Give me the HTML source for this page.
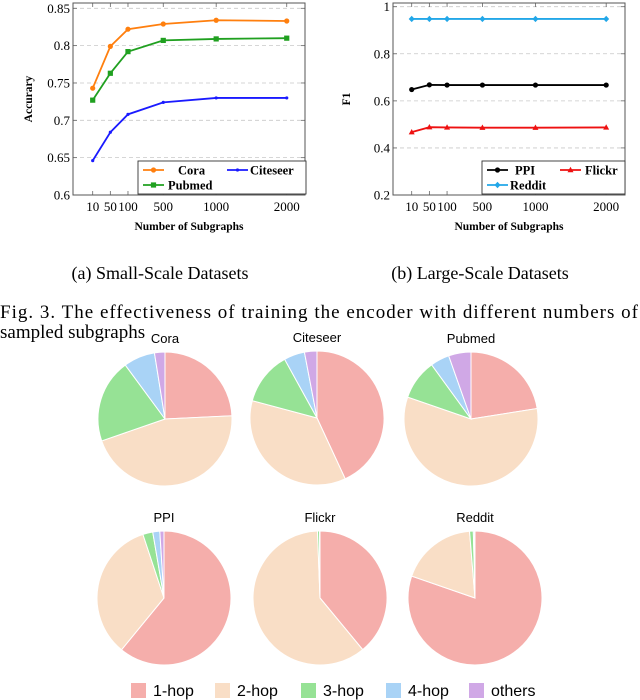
<!DOCTYPE html>
<html><head><meta charset="utf-8"><style>
body{margin:0;background:#fff;width:640px;height:700px;overflow:hidden}
svg{display:block}
.serif{font-family:"Liberation Serif",serif}
.sans{font-family:"Liberation Sans",sans-serif}
</style></head><body>
<svg id="fig" width="640" height="700" viewBox="0 0 640 700">
<g id="chartA"></g>
<g id="chartB"></g>
<text class="serif" x="160" y="279" font-size="18" text-anchor="middle">(a)  Small-Scale Datasets</text>
<text class="serif" x="480" y="279" font-size="18" text-anchor="middle">(b)  Large-Scale Datasets</text>
<text class="serif" x="0" y="318" font-size="19" textLength="638" lengthAdjust="spacing">Fig. 3.  The effectiveness of training the encoder with different numbers of</text>
<text class="serif" x="0" y="338" font-size="19">sampled subgraphs</text>
<g id="pies"></g>
<g id="pieLegend"></g>
</svg>
<script>
const xCats=["10","50","100","500","1000","2000"];
const xSlots=[0,1,2,4,7,11];
const coraVals=[0.743,0.799,0.822,0.829,0.834,0.833];
const pubmedVals=[0.727,0.763,0.792,0.807,0.809,0.810];
const citeseerVals=[0.646,0.684,0.708,0.724,0.730,0.730];
const yTicksA=[0.6,0.65,0.7,0.75,0.8,0.85];
const yTickLabelsA=["0.6","0.65","0.7","0.75","0.8","0.85"];
const ppiVals=[0.648,0.668,0.667,0.667,0.667,0.667];
const flickrVals=[0.467,0.488,0.487,0.486,0.486,0.487];
const redditVals=[0.948,0.948,0.948,0.948,0.948,0.948];
const yTicksB=[0.2,0.4,0.6,0.8,1.0];
const yTickLabelsB=["0.2","0.4","0.6","0.8","1"];
const pieNames=["Cora","Citeseer","Pubmed","PPI","Flickr","Reddit"];
const hop1=[24,43,22.5,61,39,80.3];
const hop2=[45,36,57.8,34,60.4,18.4];
const hop3=[20,12.8,9.7,2.4,0.5,0.9];
const hop4=[7.5,5,4.6,1.7,0.05,0.3];
const others=[2.5,3,5.4,1,0.05,0.1];
const pieLabels=["1-hop","2-hop","3-hop","4-hop","others"];

const NS="http://www.w3.org/2000/svg";
function mk(parent,tag,attrs){const e=document.createElementNS(NS,tag);for(const k in attrs)e.setAttribute(k,attrs[k]);parent.appendChild(e);return e;}

function drawChart(g,box,yMin,yMax,yTicks,yLabels,yTitle,series,legend){
  const xS=i=>box.x0+box.pad+xSlots[i]*box.unit;
  const yS=v=>box.y1-(v-yMin)/(yMax-yMin)*(box.y1-box.y0t);
  yTicks.forEach((t,i)=>{
    const y=yS(t);
    const gl=mk(g,'line',{x1:box.x0,x2:box.x1,y1:y,y2:y,stroke:'#c8c8c8','stroke-width':0.8,'stroke-dasharray':'4,3'});
    
    
    mk(g,'line',{x1:box.x0,x2:box.x0+4,y1:y,y2:y,stroke:'#666','stroke-width':0.8});
    mk(g,'line',{x1:box.x1,x2:box.x1-4,y1:y,y2:y,stroke:'#666','stroke-width':0.8});
    const tl=mk(g,'text',{x:box.x0-3,y:y+4.5,'font-size':13,'text-anchor':'end',class:'serif'});
    tl.textContent=yLabels[i];
    
    
  });
  xCats.forEach((c,i)=>{
    const x=xS(i);
    mk(g,'line',{x1:x,x2:x,y1:box.y1,y2:box.y1-4,stroke:'#666','stroke-width':0.8});
    mk(g,'line',{x1:x,x2:x,y1:box.y0,y2:box.y0+4,stroke:'#666','stroke-width':0.8});
    const tl=mk(g,'text',{x:x,y:box.y1+16,'font-size':13,'text-anchor':'middle',class:'serif'});
    tl.textContent=c;
    
    
  });
  series.forEach(s=>{
    const pts=s.vals.map((v,i)=>xS(i)+','+yS(v)).join(' ');
    const pl=mk(g,'polyline',{points:pts,fill:'none',stroke:s.color,'stroke-width':1.8});
    
    
    s.vals.forEach((v,i)=>{const m=marker(g,s.shape,xS(i),yS(v),s.color);
      
      });
  });
  const fr=mk(g,'rect',{x:box.x0,y:box.y0,width:box.x1-box.x0,height:box.y1-box.y0,fill:'none',stroke:'#555','stroke-width':1});
  
  
  const xt=mk(g,'text',{x:(box.x0+box.x1)/2,y:box.y1+35,'font-size':11.5,'font-weight':'bold','text-anchor':'middle',class:'serif'});
  xt.textContent='Number of Subgraphs';
  
  
  const cy=(box.y0+box.y1)/2;
  const yt=mk(g,'text',{x:box.ytx,y:cy,'font-size':11.5,'font-weight':'bold','text-anchor':'middle',class:'serif',transform:`rotate(-90 ${box.ytx} ${cy})`});
  yt.textContent=yTitle;
  
  
  const lg=mk(g,'g',{});
  
  
  mk(lg,'rect',{x:legend.x,y:161,width:legend.w,height:33,fill:'#fff',stroke:'#333','stroke-width':0.9});
  legend.items.forEach(it=>{
    const s=series[it.i];
    mk(lg,'line',{x1:it.x,x2:it.x+21,y1:it.y,y2:it.y,stroke:s.color,'stroke-width':1.8});
    marker(lg,s.shape,it.x+10.5,it.y,s.color);
    const t=mk(lg,'text',{x:it.tx,y:it.y+4.5,'font-size':12.5,'font-weight':'bold',class:'serif','text-anchor':'start'});
    t.textContent=s.label;
    
    
  });
}
function marker(g,shape,x,y,c){
  if(shape==='circle')return mk(g,'circle',{cx:x,cy:y,r:2.6,fill:c});
  if(shape==='square')return mk(g,'rect',{x:x-2.6,y:y-2.6,width:5.2,height:5.2,fill:c});
  if(shape==='tri')return mk(g,'polygon',{points:`${x},${y-3.2} ${x-3},${y+2.2} ${x+3},${y+2.2}`,fill:c});
  if(shape==='diamond')return mk(g,'polygon',{points:`${x},${y-3.2} ${x+3},${y} ${x},${y+3.2} ${x-3},${y}`,fill:c});
  return mk(g,'circle',{cx:x,cy:y,r:1.6,fill:c});
}
drawChart(document.getElementById('chartA'),
  {x0:73,x1:305,y0:3,y0t:8.3,y1:195,pad:19.7,unit:17.64,ytx:32},
  0.6,0.85,yTicksA,yTickLabelsA,'Accurary',
  [{name:'cora',label:'Cora',vals:coraVals,color:'#ff7f0e',shape:'circle'},
   {name:'pubmed',label:'Pubmed',vals:pubmedVals,color:'#20a020',shape:'square'},
   {name:'citeseer',label:'Citeseer',vals:citeseerVals,color:'#1a1aff',shape:'dot'}],
  {x:138,w:168,items:[{i:0,x:143,y:170,tx:178},{i:1,x:143,y:185,tx:168},{i:2,x:227,y:170,tx:250}]});
drawChart(document.getElementById('chartB'),
  {x0:393,x1:625,y0:3,y0t:6.7,y1:195,pad:18.7,unit:17.68,ytx:350},
  0.2,1.0,yTicksB,yTickLabelsB,'F1',
  [{name:'ppi',label:'PPI',vals:ppiVals,color:'#000',shape:'circle'},
   {name:'flickr',label:'Flickr',vals:flickrVals,color:'#ee1111',shape:'tri'},
   {name:'reddit',label:'Reddit',vals:redditVals,color:'#22a7e8',shape:'diamond'}],
  {x:482,w:143,items:[{i:0,x:487,y:170,tx:515},{i:2,x:487,y:185,tx:510},{i:1,x:560,y:170,tx:585}]});

const pieColors=['#f5aeab','#f9dec6','#96e295','#a9d3f6','#d0a8e6'];
const centers=[[165,419],[317,418],[471,419],[164,598],[320,598],[475,598]];
const pg=document.getElementById('pies');
pieNames.forEach((n,k)=>{
  const [cx,cy]=centers[k]; const r=67;
  const vals=[hop1[k],hop2[k],hop3[k],hop4[k],others[k]];
  const tot=vals.reduce((a,b)=>a+b,0);
  let a=0;
  const g=mk(pg,'g',{});
  
  
  vals.forEach((v,i)=>{
    const a0=a, a1=a+v/tot*2*Math.PI; a=a1;
    const x0=cx+r*Math.sin(a0),y0=cy-r*Math.cos(a0),x1=cx+r*Math.sin(a1),y1=cy-r*Math.cos(a1);
    const large=(a1-a0)>Math.PI?1:0;
    const p=mk(g,'path',{d:`M${cx},${cy} L${x0},${y0} A${r},${r} 0 ${large} 1 ${x1},${y1} Z`,fill:pieColors[i],stroke:'#fff','stroke-width':1});
    
    
  });
  const t=mk(g,'text',{x:cx,y:cy-r-9,'font-size':13,'text-anchor':'middle',class:'sans'});
  t.textContent=n;
  
  
});
const lgX=[131,215,301,386,469];
const pl=document.getElementById('pieLegend');
pieLabels.forEach((l,i)=>{
  const s=mk(pl,'rect',{x:lgX[i],y:683,width:15,height:15,fill:pieColors[i]});
  
  
  const t=mk(pl,'text',{x:lgX[i]+22,y:696,'font-size':16,class:'sans'});
  t.textContent=l;
  
  
});
</script>
</body></html>
